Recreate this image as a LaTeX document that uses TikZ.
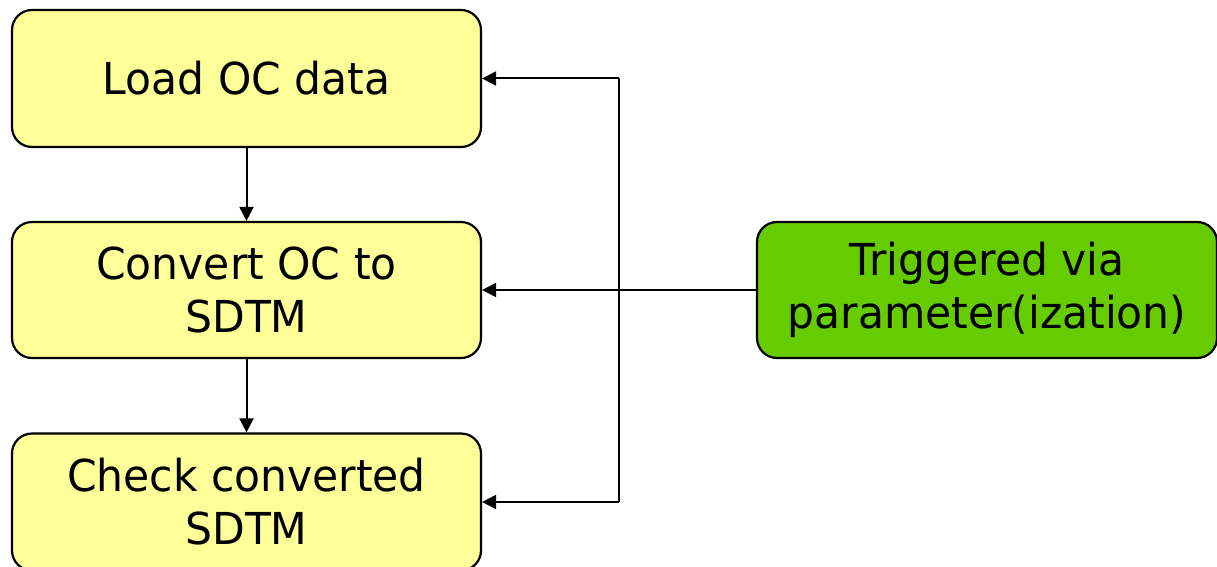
\documentclass[tikz,border=0pt]{standalone}
\usepackage{fontspec}
\setmainfont[FakeStretch=0.965]{DejaVu Sans}
\usetikzlibrary{arrows.meta}
\definecolor{stepyellow}{HTML}{FFFF99}
\definecolor{triggreen}{HTML}{66CC00}
\tikzset{
  stepbox/.style={draw=black, line width=2.2pt, rounded corners=20pt, fill=stepyellow,
    minimum width=469pt, minimum height=137pt, align=center, inner sep=0pt,
    font=\fontsize{44}{53}\selectfont},
  trigbox/.style={stepbox, fill=triggreen, minimum width=460pt, minimum height=136pt},
  conn/.style={draw=black, line width=2pt},
  arr/.style={conn, -{Triangle[length=14pt,width=14pt]}}
}
\begin{document}
\begin{tikzpicture}[x=1pt,y=-1pt]
\useasboundingbox (0,0) rectangle (1217,567);
\node[stepbox] (load) at (246.5,78.5) {Load OC data};
\node[stepbox, minimum height=136pt] (conv) at (246.5,290) {Convert OC to\\SDTM};
\node[stepbox] (check) at (246.5,502) {Check converted\\SDTM};
\node[trigbox] (trig) at (987,290) {Triggered via\\parameter(ization)};
\draw[arr] (load) -- (conv);
\draw[arr] (conv) -- (check);
\coordinate (fbtop) at (619,78.5);
\coordinate (fbbot) at (619,502);
\draw[conn] (fbtop) -- (fbbot);
\draw[arr] (fbtop) -- (load.east);
\draw[arr] (fbbot) -- (check.east);
\draw[arr] (trig) -- (conv);
\end{tikzpicture}
\end{document}
